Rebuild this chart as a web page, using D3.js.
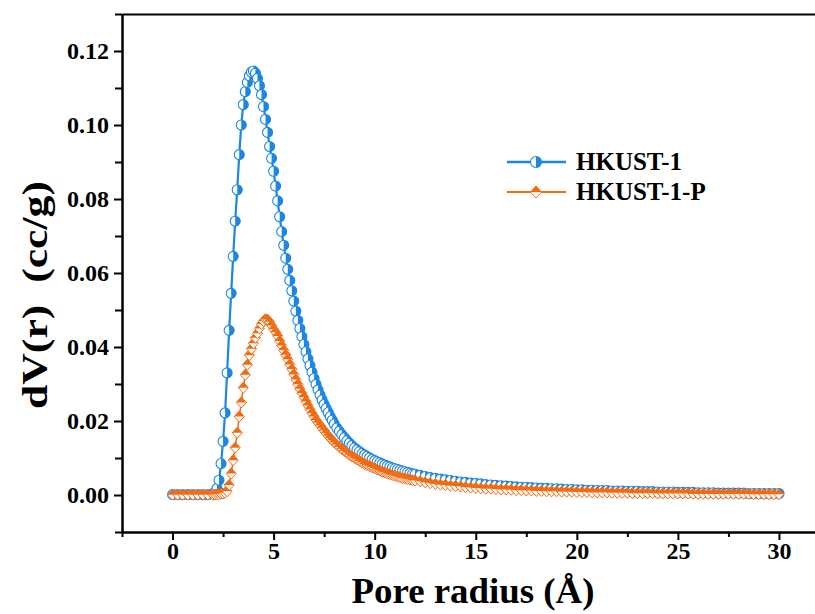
<!DOCTYPE html>
<html>
<head>
<meta charset="utf-8">
<script src="https://cdn.jsdelivr.net/npm/d3@7"></script>
<style>
body{margin:0;background:#fff;}
text{font-family:"Liberation Serif","Times New Roman",serif;font-weight:bold;fill:#000;}
</style>
</head>
<body>
<div id="chart"></div>
<script>
// pore radius grid (Å)
const radius = [
  0,0.25,0.5,0.75,1,1.25,1.5,1.75,
  2.0,2.1,2.2,2.3,2.4,2.5,2.6,2.7,2.8,2.9,
  3.0,3.1,3.2,3.3,3.4,3.5,3.6,3.7,3.8,3.9,
  4.0,4.1,4.2,4.3,4.4,4.5,4.6,4.7,4.8,4.9,
  5.0,5.1,5.2,5.3,5.4,5.5,5.6,5.7,5.8,5.9,
  6.0,6.1,6.2,6.3,6.4,6.5,6.6,6.7,6.8,6.9,
  7.0,7.1,7.2,7.3,7.4,7.5,7.6,7.7,7.8,7.9,
  8.0,8.125,8.25,8.375,8.5,8.625,8.75,8.875,
  9.0,9.125,9.25,9.375,9.5,9.625,9.75,9.875,
  10.0,10.125,10.25,10.375,10.5,10.625,10.75,10.875,
  11.0,11.125,11.25,11.375,11.5,11.625,11.75,11.875,
  12,
  12.25,12.5,12.75,13,13.25,13.5,13.75,14,
  14.25,14.5,14.75,15,15.25,15.5,15.75,16,
  16.25,16.5,16.75,17,17.25,17.5,17.75,18,
  18.25,18.5,18.75,19,19.25,19.5,19.75,20,
  20.25,20.5,20.75,21,21.25,21.5,21.75,22,
  22.25,22.5,22.75,23,23.25,23.5,23.75,24,
  24.25,24.5,24.75,25,25.25,25.5,25.75,26,
  26.25,26.5,26.75,27,27.25,27.5,27.75,28,
  28.25,28.5,28.75,29,29.25,29.5,29.75,30
];

// dV(r) cc/g, HKUST-1
const hkust = [
  0.0001,0.0001,0.0001,0.0001,0.0001,0.0001,0.0001,0.0001,
  0.0003,0.0008,0.0018,0.0040,0.0085,0.0145,0.0222,0.0330,0.0445,0.0545,
  0.0645,0.0740,0.0825,0.0920,0.1000,0.1055,0.1090,0.1115,0.1133,0.1143,
  0.1146,0.1140,0.1126,0.1106,0.1082,0.1050,0.1015,0.0980,0.0942,0.0910,
  0.0875,0.0835,0.0795,0.0752,0.0712,0.0675,0.0640,0.0610,0.0580,0.0552,
  0.0524,0.0497,0.0472,0.0450,0.0428,0.0407,0.0387,0.0368,0.0350,0.0332,
  0.0315,0.0299,0.0284,0.0270,0.0257,0.0245,0.0234,0.0223,0.0212,0.0202,
  0.0192,0.0181,0.0172,0.0163,0.0155,0.0147,0.0140,0.0133,
  0.0127,0.0122,0.0117,0.0112,0.0108,0.0104,0.0100,0.0096,
  0.0093,0.0090,0.0087,0.0084,0.0081,0.0078,0.0076,0.0073,
  0.0071,0.0069,0.0067,0.0065,0.0063,0.0061,0.0059,0.0057,
  0.0056,
  0.0053,0.0050,0.0047,0.0045,0.0043,0.0041,0.0039,0.0037,
  0.0035,0.0034,0.0032,0.0031,0.0030,0.0028,0.0027,0.0026,
  0.0025,0.0024,0.0023,0.0022,0.0021,0.0021,0.0020,0.0019,
  0.0018,0.0018,0.0017,0.0017,0.0016,0.0015,0.0015,0.0014,
  0.0014,0.0013,0.0013,0.0012,0.0012,0.0012,0.0011,0.0011,
  0.0011,0.0010,0.0010,0.0010,0.0009,0.0009,0.0009,0.0008,
  0.0008,0.0008,0.0008,0.0007,0.0007,0.0007,0.0007,0.0006,
  0.0006,0.0006,0.0006,0.0005,0.0005,0.0005,0.0005,0.0005,
  0.0005,0.0004,0.0004,0.0004,0.0004,0.0004,0.0004,0.0004
];

// dV(r) cc/g, HKUST-1-P
const hkustP = [
  0.0001,0.0001,0.0001,0.0001,0.0001,0.0001,0.0001,0.0001,
  0.0001,0.0001,0.0002,0.0002,0.0003,0.0004,0.0006,0.0010,0.0027,0.0058,
  0.0094,0.0128,0.0168,0.0212,0.0250,0.0290,0.0325,0.0352,0.0378,0.0395,
  0.0410,0.0425,0.0437,0.0450,0.0462,0.0470,0.0475,0.0474,0.0468,0.0458,
  0.0448,0.0440,0.0430,0.0416,0.0404,0.0391,0.0379,0.0367,0.0353,0.0340,
  0.0326,0.0312,0.0299,0.0287,0.0275,0.0264,0.0253,0.0242,0.0231,0.0221,
  0.0212,0.0203,0.0195,0.0188,0.0181,0.0174,0.0167,0.0160,0.0154,0.0148,
  0.0142,0.0136,0.0130,0.0124,0.0119,0.0114,0.0109,0.0104,
  0.0100,0.0096,0.0092,0.0088,0.0084,0.0081,0.0078,0.0075,
  0.0072,0.0069,0.0066,0.0063,0.0061,0.0058,0.0056,0.0054,
  0.0052,0.0050,0.0048,0.0046,0.0045,0.0043,0.0042,0.0040,
  0.0039,
  0.0037,0.0034,0.0032,0.0030,0.0028,0.0027,0.0025,0.0024,
  0.0023,0.0021,0.0020,0.0019,0.0018,0.0017,0.0017,0.0016,
  0.0015,0.0015,0.0014,0.0013,0.0013,0.0012,0.0012,0.0011,
  0.0011,0.0010,0.0010,0.0010,0.0009,0.0009,0.0009,0.0008,
  0.0008,0.0008,0.0007,0.0007,0.0007,0.0007,0.0006,0.0006,
  0.0006,0.0006,0.0005,0.0005,0.0005,0.0005,0.0005,0.0004,
  0.0004,0.0004,0.0004,0.0004,0.0004,0.0004,0.0003,0.0003,
  0.0003,0.0003,0.0003,0.0003,0.0003,0.0003,0.0003,0.0003,
  0.0003,0.0003,0.0002,0.0002,0.0002,0.0002,0.0002,0.0002
];

const seriesNames = ["HKUST-1", "HKUST-1-P"];
const xMajor = [0, 5, 10, 15, 20, 25, 30];
const xMinor = [-2.5, 2.5, 7.5, 12.5, 17.5, 22.5, 27.5];
const yMajor = [0, 0.02, 0.04, 0.06, 0.08, 0.10, 0.12];
const yMinor = [-0.01, 0.01, 0.03, 0.05, 0.07, 0.09, 0.11, 0.13];

const blue = "#1c86e3";
const orange = "#f06a12";

const W = 815, H = 614;

const svg = d3.select("#chart").append("svg")
  .attr("width", W).attr("height", H)
  .style("background", "#fff");

// scales
const x = d3.scaleLinear().domain([-2.5, 32]).range([122, 819.4]);
const y = d3.scaleLinear().domain([-0.01, 0.13]).range([532, 14]);

// axes
function styleAxis(g){
  g.select(".domain").attr("stroke", "#000").attr("stroke-width", 2);
  g.selectAll(".tick line").attr("stroke", "#000").attr("stroke-width", 2);
  g.selectAll(".tick text").style("font-size", "24px");
}

svg.append("g")
  .attr("transform", "translate(0,532)")
  .call(d3.axisBottom(x).tickValues(xMinor).tickFormat("").tickSize(5).tickSizeOuter(0))
  .call(styleAxis);
svg.append("g")
  .attr("transform", "translate(0,532)")
  .call(d3.axisBottom(x).tickValues(xMajor).tickFormat(d3.format("d")).tickSize(8).tickPadding(2).tickSizeOuter(0))
  .call(styleAxis);

svg.append("g")
  .attr("transform", "translate(122,0)")
  .call(d3.axisLeft(y).tickValues(yMinor).tickFormat("").tickSize(7).tickSizeOuter(0))
  .call(styleAxis);
svg.append("g")
  .attr("transform", "translate(122,0)")
  .call(d3.axisLeft(y).tickValues(yMajor).tickFormat(d3.format(".2f")).tickSize(8).tickPadding(5).tickSizeOuter(0))
  .call(styleAxis);

// top border
svg.append("g")
  .attr("transform", "translate(0,14)")
  .call(d3.axisTop(x).tickValues([]).tickSizeOuter(0))
  .call(styleAxis);

// axis titles
svg.append("text")
  .attr("x", 473).attr("y", 603)
  .attr("text-anchor", "middle")
  .attr("textLength", 243).attr("lengthAdjust", "spacingAndGlyphs")
  .style("font-size", "36px")
  .text("Pore radius (Å)");

svg.append("text")
  .attr("transform", "translate(47,295) rotate(-90)")
  .attr("text-anchor", "middle")
  .attr("textLength", 228).attr("lengthAdjust", "spacingAndGlyphs")
  .style("font-size", "36px")
  .style("white-space", "pre")
  .text("dV(r)  (cc/g)");

// marker drawers
function halfCircle(g, r){
  g.append("circle").attr("r", r).attr("fill", "#fff").attr("stroke", blue).attr("stroke-width", 1.1);
  g.append("path").attr("d", "M0," + (-r) + "A" + r + "," + r + " 0 0 1 0," + r + "Z").attr("fill", blue);
}
function halfDiamond(g, w, h){
  g.append("path").attr("d", "M0," + (-h) + "L" + w + ",0L0," + h + "L" + (-w) + ",0Z")
    .attr("fill", "#fff").attr("stroke", orange).attr("stroke-width", 1);
  g.append("path").attr("d", "M" + (-w) + ",0L0," + (-h) + "L" + w + ",0Z").attr("fill", orange);
}

const line = d3.line().x(d => x(d[0])).y(d => y(d[1]));
const dataA = radius.map((r, i) => [r, hkust[i]]);
const dataB = radius.map((r, i) => [r, hkustP[i]]);

// HKUST-1
svg.append("path").datum(dataA)
  .attr("d", line).attr("fill", "none")
  .attr("stroke", blue).attr("stroke-width", 2.2);
svg.append("g").selectAll("g").data(dataA).enter().append("g")
  .attr("transform", d => "translate(" + x(d[0]) + "," + y(d[1]) + ")")
  .each(function(){ halfCircle(d3.select(this), 5); });

// HKUST-1-P
svg.append("path").datum(dataB)
  .attr("d", line).attr("fill", "none")
  .attr("stroke", orange).attr("stroke-width", 1.5);
svg.append("g").selectAll("g").data(dataB).enter().append("g")
  .attr("transform", d => "translate(" + x(d[0]) + "," + y(d[1]) + ")")
  .each(function(){ halfDiamond(d3.select(this), 5, 5.5); });

// legend
const legend = svg.append("g");
const legRows = [
  {name: seriesNames[0], color: blue, yy: 162, draw: g => halfCircle(g, 5.5)},
  {name: seriesNames[1], color: orange, yy: 192, draw: g => halfDiamond(g, 5.5, 6)}
];
legRows.forEach(function(row){
  legend.append("line")
    .attr("x1", 507).attr("x2", 566)
    .attr("y1", row.yy).attr("y2", row.yy)
    .attr("stroke", row.color).attr("stroke-width", row.color === blue ? 2.5 : 1.8);
  row.draw(legend.append("g").attr("transform", "translate(536," + row.yy + ")"));
  legend.append("text")
    .attr("x", 576).attr("y", row.yy + 8)
    .style("font-size", "25px")
    .text(row.name);
});
</script>
</body>
</html>
